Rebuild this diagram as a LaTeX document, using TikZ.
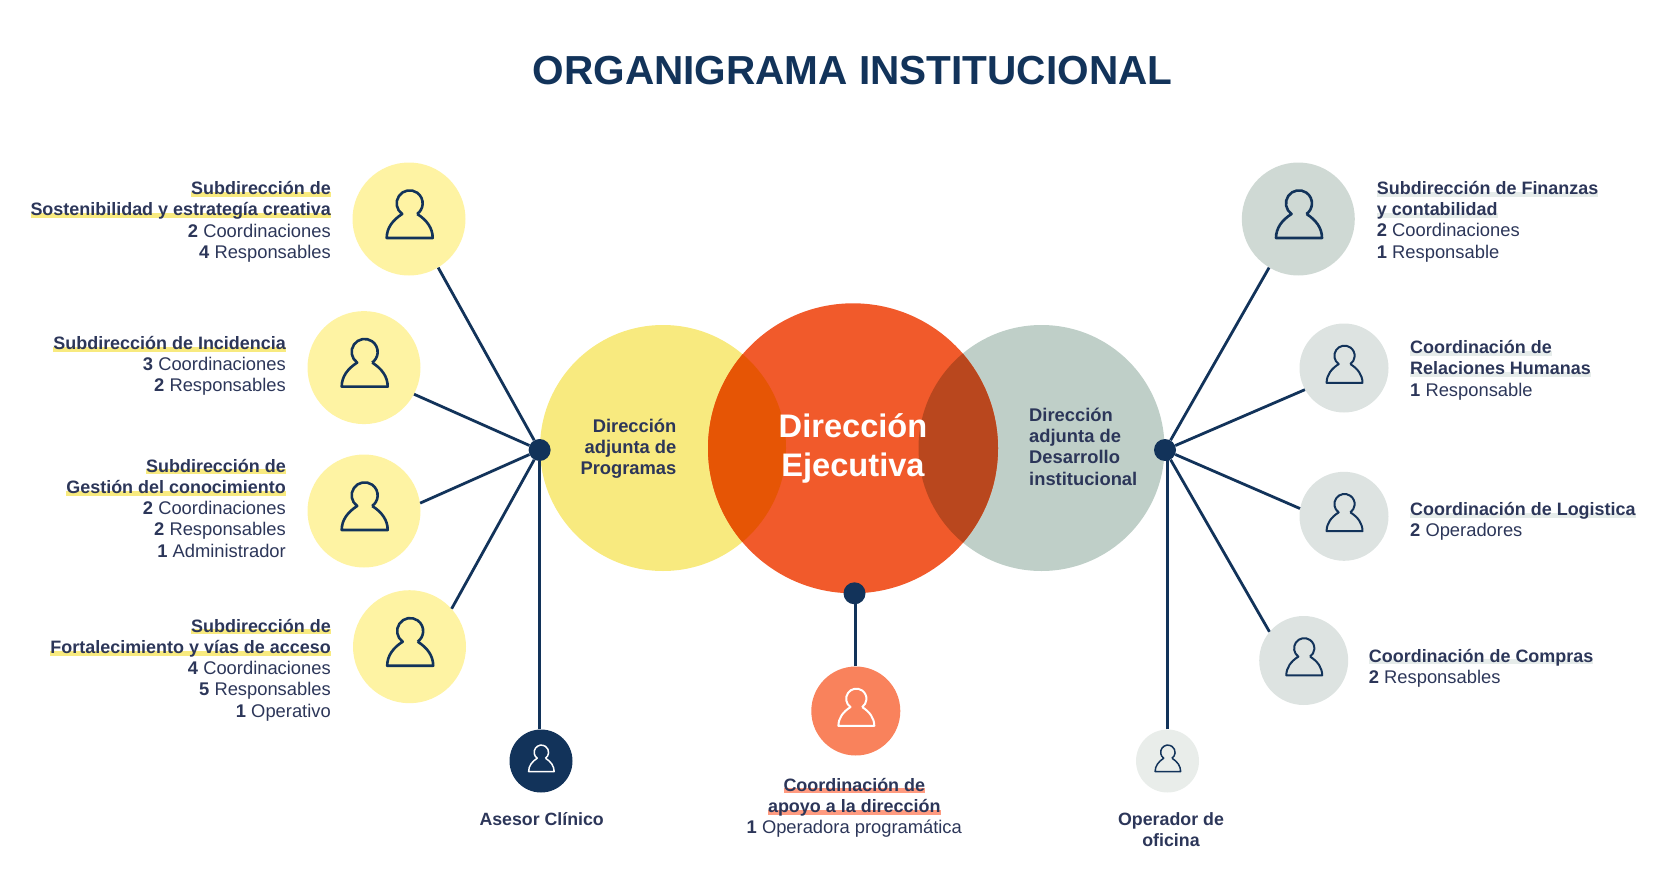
\documentclass[tikz,border=0pt]{standalone}
\usepackage{fontspec}
\setmainfont{Liberation Sans}
\usetikzlibrary{positioning}
\definecolor{azul}{HTML}{12335A}
\definecolor{tinta}{HTML}{2C3659}
\definecolor{amarillo}{HTML}{F8EA7F}
\definecolor{amarilloclaro}{HTML}{FEF3A3}
\definecolor{naranja}{HTML}{F15A2B}
\definecolor{naranjaclaro}{HTML}{F9825C}
\definecolor{marcanaranja}{HTML}{FF9B80}
\definecolor{gris}{HTML}{BFCFC8}
\definecolor{grismedio}{HTML}{CFD9D4}
\definecolor{grisclaro}{HTML}{DDE3E1}
\definecolor{grispalido}{HTML}{E9EDEA}
\definecolor{marcagris}{HTML}{E6ECEA}
\definecolor{lenteamarilla}{HTML}{E65505}
\definecolor{lentegris}{HTML}{B9471E}
\newsavebox{\marcabox}
\newcommand{\negrita}{\fontsize{17.95}{21.3}\selectfont\bfseries}
\newcommand{\marca}[2]{\sbox{\marcabox}{\negrita #2}\leavevmode\rlap{\textcolor{#1}{\rule[-2.4pt]{\wd\marcabox}{5pt}}}\usebox{\marcabox}}
\tikzset{persona/.pic={
    \draw[pic actions, line join=round] (8.2,-5)
        .. controls (17.7,1) and (23.7,9) .. (23.7,19) -- (-22.3,19)
        .. controls (-22.3,9) and (-16.3,1) .. (-6.8,-5)
        arc[start angle=125, end angle=415, radius=13];
}}
\begin{document}
\begin{tikzpicture}[x=1pt, y=-1pt]
\tikzstyle{disco} = [circle, inner sep=0pt, minimum size=#1]
\tikzstyle{nudo} = [circle, inner sep=0pt, minimum size=22pt, fill=azul]
\tikzstyle{enlace} = [azul, line width=2.8pt]
\tikzstyle{texto} = [inner sep=0pt, text=tinta, font=\fontsize{18.35}{21.3}\selectfont]
\tikzstyle{aladerecha} = [texto, anchor=north east, align=right]
\tikzstyle{alaizquierda} = [texto, anchor=north west, align=left]
\tikzstyle{alcentro} = [texto, anchor=north, align=center]
\useasboundingbox (0,0) rectangle (1658,870);
\node[inner sep=0pt, anchor=base, text=azul, font=\fontsize{40.55}{41}\selectfont\bfseries] (titulo) at (852.5,84) {ORGANIGRAMA INSTITUCIONAL};
% circulos centrales
\node[disco=246pt, fill=amarillo] (dirProg) at (663,448) {};
\node[disco=246pt, fill=gris] (dirDes) at (1041.5,448) {};
\node[disco=290pt, fill=naranja] (dirEje) at (853,448.3) {};
\begin{scope}
\clip (dirProg.center) circle (123);
\fill[lenteamarilla] (dirEje.center) circle (145);
\end{scope}
\begin{scope}
\clip (dirDes.center) circle (123);
\fill[lentegris] (dirEje.center) circle (145);
\end{scope}
\node[nudo] (hubProg) at (539.6,450) {};
\node[nudo] (hubDes) at (1165,450) {};
\node[nudo] (hubEje) at (854.5,593.3) {};
% izquierda
\node[disco=113pt, fill=amarilloclaro] (subSost) at (409,219) {};
\node[disco=113pt, fill=amarilloclaro] (subInc) at (364,367.6) {};
\node[disco=113pt, fill=amarilloclaro] (subGes) at (364,511) {};
\node[disco=113pt, fill=amarilloclaro] (subFor) at (409.5,646.7) {};
\node[disco=63pt, fill=azul] (asesor) at (541,761) {};
% derecha
\node[disco=113pt, fill=grismedio] (subFin) at (1298.3,219) {};
\node[disco=89pt, fill=grisclaro] (coordRH) at (1344,368) {};
\node[disco=89pt, fill=grisclaro] (coordLog) at (1344,516.3) {};
\node[disco=89pt, fill=grisclaro] (coordCom) at (1303.7,660.5) {};
\node[disco=63pt, fill=grispalido] (operador) at (1167.5,761) {};
% abajo
\node[disco=89pt, fill=naranjaclaro] (coordApoyo) at (855.8,711) {};
% enlaces
\foreach \who/\ang in {subSost/301, subInc/332, subGes/8, subFor/42} {
    \draw[enlace] (hubProg) -- (\who.\ang);
}
\foreach \who/\ang in {subFin/239.5, coordRH/209.3, coordLog/170.4, coordCom/140.7} {
    \draw[enlace] (hubDes) -- (\who.\ang);
}
\draw[enlace] (hubProg) -- (hubProg |- asesor.north);
\draw[enlace] (operador.north) -- (operador.north |- hubDes);
\draw[enlace] (coordApoyo.north) -- (coordApoyo.north |- hubEje);
% iconos
\foreach \who in {subSost, subInc, subGes, subFor, subFin} {
    \pic[draw=azul, line width=2.6pt] at (\who) {persona};
}
\foreach \who in {coordRH, coordLog, coordCom} {
    \pic[draw=azul, line width=2pt, scale=0.78] at (\who) {persona};
}
\pic[draw=white, line width=2pt, scale=0.78] at (coordApoyo) {persona};
\pic[draw=white, line width=1.5pt, scale=0.555] at (asesor) {persona};
\pic[draw=azul, line width=1.5pt, scale=0.555] at (operador) {persona};
% textos
\node[inner sep=0pt, anchor=north, align=center, text=white, font=\fontsize{32.6}{39}\selectfont\bfseries] (txtEje) at (853,413.8) {Dirección\\Ejecutiva};
\node[aladerecha, font=\fontsize{18.35}{21.3}\selectfont\bfseries] (txtProg) at (676.6,418.7) {Dirección\\adjunta de\\Programas};
\node[alaizquierda, font=\fontsize{18.35}{21.3}\selectfont\bfseries] (txtDes) at (1029,407.7) {Dirección\\adjunta de\\Desarrollo\\institucional};
\node[aladerecha] (txtSost) at (331,181.3) {\marca{amarillo}{Subdirección de}\\\marca{amarillo}{Sostenibilidad y estrategía creativa}\\\textbf{2} Coordinaciones\\\textbf{4} Responsables};
\node[aladerecha] (txtInc) at (286,336) {\marca{amarillo}{Subdirección de Incidencia}\\\textbf{3} Coordinaciones\\\textbf{2} Responsables};
\node[aladerecha] (txtGes) at (286,458.7) {\marca{amarillo}{Subdirección de}\\\marca{amarillo}{Gestión del conocimiento}\\\textbf{2} Coordinaciones\\\textbf{2} Responsables\\\textbf{1} Administrador};
\node[aladerecha] (txtFor) at (331,618.7) {\marca{amarillo}{Subdirección de}\\\marca{amarillo}{Fortalecimiento y vías de acceso}\\\textbf{4} Coordinaciones\\\textbf{5} Responsables\\\textbf{1} Operativo};
\node[alaizquierda] (txtFin) at (1376.7,181) {\marca{marcagris}{Subdirección de Finanzas}\\\marca{marcagris}{y contabilidad}\\\textbf{2} Coordinaciones\\\textbf{1} Responsable};
\node[alaizquierda] (txtRH) at (1410,340.3) {\marca{marcagris}{Coordinación de}\\\marca{marcagris}{Relaciones Humanas}\\\textbf{1} Responsable};
\node[alaizquierda] (txtLog) at (1410,502) {\marca{marcagris}{Coordinación de Logistica}\\\textbf{2} Operadores};
\node[alaizquierda] (txtCom) at (1368.7,648.7) {\marca{marcagris}{Coordinación de Compras}\\\textbf{2} Responsables};
\node[alcentro, font=\fontsize{17.75}{21.3}\selectfont\bfseries] (txtAsesor) at (541.7,812.2) {Asesor Clínico};
\node[alcentro] (txtApoyo) at (854.3,777.7) {\marca{marcanaranja}{Coordinación de}\\\marca{marcanaranja}{apoyo a la dirección}\\\textbf{1} Operadora programática};
\node[alcentro, font=\fontsize{17.8}{21.3}\selectfont\bfseries] (txtOper) at (1171,812.5) {Operador de\\oficina};
\end{tikzpicture}
\end{document}
